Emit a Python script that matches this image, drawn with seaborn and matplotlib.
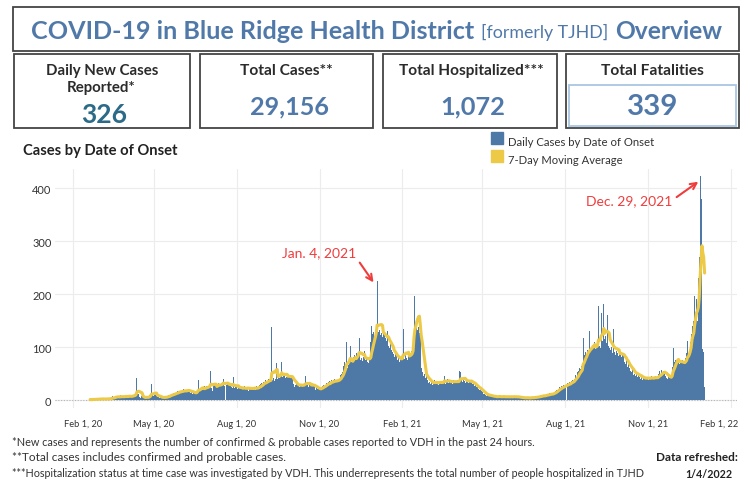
import numpy as np
import pandas as pd
import seaborn as sns
import matplotlib.pyplot as plt
from matplotlib.patches import Rectangle
from matplotlib.transforms import ScaledTranslation

# daily cases by date of onset (one list per month)
cases_2020_02 = [1, 0, 2, 1, 0, 3, 2, 1, 2, 3]  # from Feb 20
cases_2020_03 = [2, 1, 3, 2, 2, 1, 3, 2, 1, 4, 2, 3, 2, 2, 5, 7, 6, 4, 8, 6, 5, 7, 6, 5, 9, 6, 7, 5, 6, 8, 7]
cases_2020_04 = [7, 8, 6, 9, 5, 7, 8, 10, 12, 9, 18, 42, 14, 11, 6, 4, 7, 5, 3, 6, 5, 4, 7, 6, 5, 9, 12, 31, 10, 8]
cases_2020_05 = [11, 9, 12, 8, 5, 6, 4, 7, 5, 3, 6, 5, 4, 7, 6, 8, 9, 7, 10, 12, 11, 9, 13, 14, 12, 15, 17, 14, 16, 18, 15]
cases_2020_06 = [18, 16, 20, 17, 19, 15, 18, 21, 17, 16, 13, 15, 12, 16, 14, 11, 15, 18, 38, 20, 17, 22, 24, 19, 23, 26, 21, 27, 24, 26]
cases_2020_07 = [26, 30, 54, 22, 18, 28, 31, 27, 29, 24, 30, 33, 26, 28, 32, 35, 40, 27, 29, 31, 28, 34, 30, 26, 29, 24, 22, 43, 25, 23, 26]
cases_2020_08 = [25, 20, 27, 24, 22, 21, 23, 19, 24, 26, 20, 22, 25, 18, 23, 21, 24, 22, 20, 25, 23, 19, 26, 22, 24, 28, 31, 27, 33, 30, 35]
cases_2020_09 = [34, 38, 31, 36, 40, 38, 40, 36, 137, 38, 42, 36, 40, 70, 40, 44, 46, 42, 48, 71, 43, 45, 47, 41, 44, 48, 46, 43, 45, 42]
cases_2020_10 = [44, 40, 30, 25, 28, 33, 26, 29, 31, 24, 27, 30, 26, 28, 31, 45, 27, 33, 29, 25, 30, 28, 26, 32, 27, 29, 22, 19, 24, 20, 21]
cases_2020_11 = [20, 23, 22, 26, 28, 31, 25, 29, 32, 30, 34, 36, 31, 38, 35, 33, 37, 40, 34, 36, 38, 40, 36, 48, 50, 55, 52, 64, 72, 68]
cases_2020_12 = [110, 60, 66, 70, 102, 64, 72, 78, 82, 85, 79, 88, 84, 90, 118, 83, 76, 79, 74, 81, 93, 75, 78, 72, 70, 77, 80, 110, 140, 125, 128]
cases_2021_01 = [118, 125, 130, 224, 135, 128, 132, 122, 126, 119, 131, 124, 118, 112, 108, 130, 102, 98, 105, 94, 90, 86, 82, 88, 79, 84, 76, 80, 72, 78, 75]
cases_2021_02 = [82, 134, 78, 85, 88, 80, 76, 90, 84, 86, 92, 105, 118, 247, 197, 128, 140, 132, 138, 126, 135, 60, 52, 48, 45, 50, 42, 46]
cases_2021_03 = [38, 32, 35, 30, 36, 33, 29, 34, 37, 31, 35, 32, 28, 36, 34, 38, 30, 33, 37, 46, 31, 34, 39, 32, 36, 33, 38, 35, 30, 37, 34]
cases_2021_04 = [36, 33, 38, 35, 31, 55, 52, 37, 34, 39, 36, 33, 40, 38, 35, 32, 37, 34, 36, 31, 30, 27, 29, 24, 22, 25, 20, 19, 21, 17]
cases_2021_05 = [15, 12, 11, 9, 10, 8, 11, 9, 7, 10, 6, 7, 5, 8, 6, 7, 6, 5, 8, 7, 6, 5, 7, 6, 8, 5, 6, 7, 5, 6, 7]
cases_2021_06 = [6, 7, 5, 6, 8, 5, 6, 7, 5, 6, 4, 5, 3, 4, 6, 4, 5, 3, 4, 5, 4, 3, 5, 4, 6, 5, 4, 5, 6, 5]
cases_2021_07 = [6, 7, 8, 6, 9, 7, 8, 10, 7, 9, 10, 12, 9, 11, 13, 10, 12, 11, 14, 15, 17, 19, 18, 22, 20, 24, 23, 26, 25, 28, 27]
cases_2021_08 = [26, 30, 28, 33, 31, 35, 29, 36, 38, 34, 40, 45, 48, 44, 52, 55, 60, 58, 65, 62, 118, 72, 85, 90, 82, 95, 88, 131, 92, 98, 101]
cases_2021_09 = [104, 98, 110, 96, 100, 108, 178, 102, 98, 165, 110, 112, 181, 115, 120, 108, 160, 102, 98, 95, 92, 100, 88, 134, 90, 85, 92, 88, 84, 90]
cases_2021_10 = [86, 90, 82, 88, 84, 72, 68, 75, 62, 70, 65, 60, 55, 52, 58, 48, 50, 46, 53, 44, 49, 47, 43, 40, 45, 38, 42, 44, 39, 41, 43]
cases_2021_11 = [42, 38, 44, 40, 45, 41, 39, 43, 46, 40, 42, 44, 50, 54, 48, 56, 52, 55, 50, 53, 45, 42, 40, 44, 41, 43, 46, 62, 99, 68]
cases_2021_12 = [72, 76, 70, 78, 74, 68, 72, 70, 75, 66, 73, 71, 80, 88, 112, 85, 92, 110, 125, 184, 140, 150, 197, 165, 190, 150, 230, 270, 423, 395, 380]
cases_2022_01 = [96, 90, 24]
first_day = "2020-02-20"

tick_dates = ["2020-02-01", "2020-05-01", "2020-08-01", "2020-11-01", "2021-02-01",
              "2021-05-01", "2021-08-01", "2021-11-01", "2022-02-01"]
tick_labels = ["Feb 1, 20", "May 1, 20", "Aug 1, 20", "Nov 1, 20", "Feb 1, 21",
               "May 1, 21", "Aug 1, 21", "Nov 1, 21", "Feb 1, 22"]
y_ticks = [0, 100, 200, 300, 400]

kpi_labels = [["Daily New Cases", "Reported*"], ["Total Cases**"], ["Total Hospitalized***"], ["Total Fatalities"]]
kpi_values = ["326", "29,156", "1,072", "339"]

footnotes = [
    "*New cases and represents the number of confirmed & probable cases reported to VDH in the past 24 hours.",
    "**Total cases includes confirmed and probable cases.",
    "***Hospitalization status at time case was investigated by VDH. This underrepresents the total number of people hospitalized in TJHD",
]
refreshed = "1/4/2022"

months = [cases_2020_02, cases_2020_03, cases_2020_04, cases_2020_05, cases_2020_06, cases_2020_07,
          cases_2020_08, cases_2020_09, cases_2020_10, cases_2020_11, cases_2020_12, cases_2021_01,
          cases_2021_02, cases_2021_03, cases_2021_04, cases_2021_05, cases_2021_06, cases_2021_07,
          cases_2021_08, cases_2021_09, cases_2021_10, cases_2021_11, cases_2021_12, cases_2022_01]
cases = [v for m in months for v in m]
df = pd.DataFrame({"date": pd.date_range(first_day, periods=len(cases), freq="D"), "cases": cases})
df["ma"] = df["cases"].rolling(7, min_periods=1).mean()

BLUE = "#4e79a7"
YELLOW = "#edc948"
TITLE_BLUE = "#5079a9"
RED = "#f03c3c"
DARK = "#333333"
FONT = ["Lato", "DejaVu Sans"]

sns.set_style("white")
plt.rcParams["font.family"] = FONT

fig = plt.figure(figsize=(7.5, 4.89), dpi=100)
ov = fig.add_axes([0, 0, 1, 1])
ov.set_xlim(0, 750)
ov.set_ylim(489, 0)
ov.axis("off")
ax = fig.add_axes([55 / 750, 1 - 409 / 489, 682 / 750, 239 / 489])
renderer = fig.canvas.get_renderer()


def size_for(s, width, **kw):
    # font size that makes the string span `width` pixels
    t = fig.text(0, 0, s, fontsize=10, **kw)
    w = t.get_window_extent(renderer).width
    t.remove()
    return 10 * width / w


def put(s, x0, x1, y, ha="left", **kw):
    fs = size_for(s, x1 - x0, **{k: v for k, v in kw.items() if k == "weight"})
    x = {"left": x0, "center": (x0 + x1) / 2, "right": x1}[ha]
    return ov.text(x, y, s, ha=ha, va="baseline", fontsize=fs, **kw)


# header boxes
ov.add_patch(Rectangle((13, 8), 726, 44, fill=False, ec="#444444", lw=1.3))
put("COVID-19 in Blue Ridge Health District", 31, 473, 39, weight="bold", color=TITLE_BLUE)
put("[formerly TJHD]", 481, 608, 38, color=TITLE_BLUE)
put("Overview", 615, 723, 39, weight="bold", color=TITLE_BLUE)

boxes = [(14, 190), (200, 373), (383, 557), (566, 739)]
label_spans = [[(46, 158), (67, 136)], [(240, 333)], [(399, 543)], [(601, 704)]]
value_spans = [(81, 127), (250, 329), (440, 505), (627, 678)]
value_base = [123, 114, 114, 115]
value_colors = ["#2c6b88", TITLE_BLUE, TITLE_BLUE, TITLE_BLUE]
for i, (x0, x1) in enumerate(boxes):
    ov.add_patch(Rectangle((x0, 55), x1 - x0, 74, fill=False, ec="#444444", lw=1.3))
    for j, (lab, span) in enumerate(zip(kpi_labels[i], label_spans[i])):
        put(lab, span[0], span[1], 75 + 17 * j, weight="bold", color="#2b2b2b")
    put(kpi_values[i], value_spans[i][0], value_spans[i][1], value_base[i], weight="bold", color=value_colors[i])
ov.add_patch(Rectangle((569, 86), 167, 41, fill=False, ec="#a9c6e3", lw=1.3))

# chart title and legend
put("Cases by Date of Onset", 23, 178, 155, weight="bold", color="#222222")
ov.add_patch(Rectangle((491, 133), 12, 12, color=BLUE))
ov.add_patch(Rectangle((491, 151), 12, 12, color=YELLOW))
put("Daily Cases by Date of Onset", 508, 654, 146, color=DARK)
put("7-Day Moving Average", 508, 623, 164, color=DARK)

# bars and moving average
ax.bar(df["date"], df["cases"], width=1.0, color=BLUE, linewidth=0, zorder=2)
sns.lineplot(data=df, x="date", y="ma", ax=ax, color=YELLOW, linewidth=2.2, zorder=3)
ax.axhline(0, color="#b5b5b5", lw=0.8, ls=(0, (1, 1.5)), zorder=1)

ax.set_xlim(pd.Timestamp("2020-01-12"), pd.Timestamp("2022-02-08"))
ax.set_ylim(-15, 436)
ax.set_xticks(pd.to_datetime(tick_dates))
ax.set_xticklabels(tick_labels)
ax.set_yticks(y_ticks)
ax.set_xlabel("")
ax.set_ylabel("")
ax.grid(True, color="#ececec", lw=0.8)
ax.set_axisbelow(True)
for s in ax.spines.values():
    s.set_visible(False)
ax.tick_params(axis="x", length=0, pad=8, labelsize=size_for("May 1, 20", 41), labelcolor=DARK)
ax.tick_params(axis="y", length=0, pad=2.5, labelsize=size_for("400", 19), labelcolor=DARK)
xl = ax.get_xticklabels()
xl[0].set_transform(xl[0].get_transform() + ScaledTranslation(0.10, 0, fig.dpi_scale_trans))
xl[-1].set_transform(xl[-1].get_transform() + ScaledTranslation(-0.12, 0, fig.dpi_scale_trans))

# annotations
arrow = dict(arrowstyle="->", color=RED, lw=1.5, mutation_scale=11, shrinkA=1, shrinkB=0)
fs_ann = size_for("Jan. 4, 2021", 74)
ax.annotate("Jan. 4, 2021", xy=(pd.Timestamp("2020-12-31"), 222), xytext=(pd.Timestamp("2020-11-01"), 279),
            ha="center", va="center", color=RED, fontsize=fs_ann,
            arrowprops=dict(arrow, relpos=(1, 0)))
ax.annotate("Dec. 29, 2021", xy=(pd.Timestamp("2021-12-27"), 412), xytext=(pd.Timestamp("2021-10-11"), 377),
            ha="center", va="center", color=RED, fontsize=fs_ann,
            arrowprops=dict(arrow, relpos=(1, 0.5)))

# footnotes
put(footnotes[0], 12, 535, 446, color=DARK)
put(footnotes[1], 12, 284, 461, color=DARK)
put(footnotes[2], 12, 648, 477, color=DARK)
put("Data refreshed:", 656, 738, 461, weight="bold", color="#222222")
put(refreshed, 685, 732, 478, weight="bold", color="#222222")

fig.savefig("out.png", dpi=100)
